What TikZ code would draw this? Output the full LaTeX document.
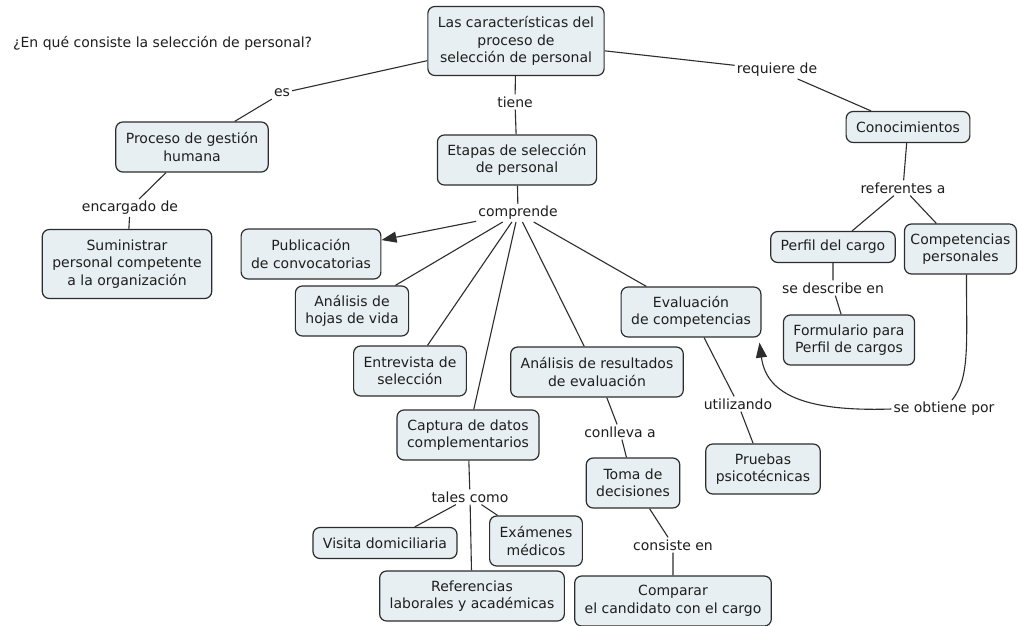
\documentclass[tikz,border=0pt]{standalone}
\usepackage{fontspec}
\setmainfont{DejaVu Sans}
\usetikzlibrary{arrows.meta}
\definecolor{boxfill}{RGB}{231,239,242}
\definecolor{edge}{RGB}{45,45,45}
\definecolor{ink}{RGB}{30,30,30}
\begin{document}
\begin{tikzpicture}[x=1pt,y=-1pt,
  every node/.style={font=\fontsize{14}{17.5}\selectfont, text=ink},
  box/.style={draw=edge, fill=boxfill, rounded corners=7pt, line width=1.2pt,
              align=center, inner xsep=10pt, inner ysep=3pt},
  box1/.style={box, minimum height=31pt},
  box2/.style={box, minimum height=50pt},
  box3/.style={box, minimum height=69pt},
  lbl/.style={inner sep=2pt, align=center},
  link/.style={draw=edge, line width=1.1pt},
  arrowlink/.style={link, -{Triangle[length=15pt,width=11pt]}}
]
\fill[white] (0,0) rectangle (1018,625);
\useasboundingbox (0,0) rectangle (1018,625);

% heading
\node[anchor=west, inner sep=0pt] (q) at (13,43) {¿En qué consiste la selección de personal?};

% concepts
\node[box3] (title) at (516,41) {Las características del\\proceso de\\selección de personal};
\node[box2] (proc) at (192,147) {Proceso de gestión\\humana};
\node[box3] (sumin) at (127,264) {Suministrar\\personal competente\\a la organización};
\node[box2] (etapas) at (517,160) {Etapas de selección\\de personal};
\node[box1] (conoc) at (908,127) {Conocimientos};
\node[box2] (pub) at (311,254) {Publicación\\de convocatorias};
\node[box2] (hojas) at (352,311) {Análisis de\\hojas de vida};
\node[box2] (entrev) at (410,371) {Entrevista de\\selección};
\node[box2] (anres) at (597,372) {Análisis de resultados\\de evaluación};
\node[box2] (eval) at (691,312) {Evaluación\\de competencias};
\node[box1] (perfil) at (833,247) {Perfil del cargo};
\node[box2, anchor=east, inner xsep=6pt] (compet) at (1017,249) {Competencias\\personales};
\node[box2] (form) at (849,340) {Formulario para\\Perfil de cargos};
\node[box2] (captura) at (468,435) {Captura de datos\\complementarios};
\node[box2] (toma) at (633,483) {Toma de\\decisiones};
\node[box2] (pruebas) at (763,469) {Pruebas\\psicotécnicas};
\node[box1] (visita) at (385,543) {Visita domiciliaria};
\node[box2] (examen) at (536,541) {Exámenes\\médicos};
\node[box2] (refer) at (472,596) {Referencias\\laborales y académicas};
\node[box2] (compar) at (673,601) {Comparar\\el candidato con el cargo};

% linking phrases
\node[lbl] (es) at (282,93) {es};
\node[lbl] (tiene) at (515,102) {tiene};
\node[lbl] (req) at (777,70) {requiere de};
\node[lbl] (encarg) at (130,208) {encargado de};
\node[lbl] (comp) at (518,213) {comprende};
\node[lbl] (refa) at (903,188) {referentes a};
\node[lbl] (desc) at (833,288) {se describe en};
\node[lbl] (util) at (738,404) {utilizando};
\node[lbl] (seobt) at (944,409) {se obtiene por};
\node[lbl] (conl) at (620,432) {conlleva a};
\node[lbl] (tales) at (470,497) {tales como};
\node[lbl] (cons) at (673,545) {consiste en};

% connectors
\draw[link] (title) -- (es) -- (proc);
\draw[link] (proc) -- (encarg) -- (sumin);
\draw[link] (title) -- (tiene) -- (etapas);
\draw[link] (title) -- (req) -- (conoc);
\draw[link] (etapas) -- (comp);
\draw[arrowlink] (comp) -- (pub);
\draw[link] (comp) -- (hojas);
\draw[link] (comp) -- (entrev);
\draw[link] (comp) -- (captura);
\draw[link] (comp) -- (anres);
\draw[link] (comp) -- (eval);
\draw[link] (conoc) -- (refa);
\draw[link] (refa) -- (perfil);
\draw[link] (refa) -- (compet);
\draw[link] (perfil) -- (desc) -- (form);
\draw[link] (eval) -- (util) -- (pruebas);
\draw[link] (anres) -- (conl) -- (toma);
\draw[link] (toma) -- (cons) -- (compar);
\draw[link] (captura) -- (tales);
\draw[link] (tales) -- (visita);
\draw[link] (tales) -- (examen);
\draw[link] (tales) -- (refer);
\draw[link] ([xshift=6pt]compet.south) .. controls +(0,70) and +(18,-22) .. ([xshift=8pt]seobt.north);
\draw[arrowlink] (seobt.west) .. controls (800,412) and (766,392) .. ([shift={(-2,5)}]eval.south east);
\end{tikzpicture}
\end{document}
